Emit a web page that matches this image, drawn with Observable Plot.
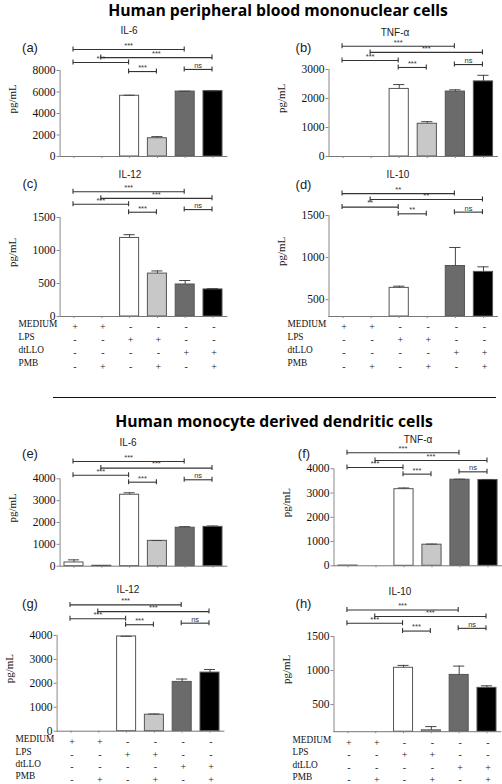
<!DOCTYPE html>
<html><head><meta charset="utf-8">
<script src="https://cdn.jsdelivr.net/npm/d3@7"></script>
<script src="https://cdn.jsdelivr.net/npm/@observablehq/plot@0.6"></script>
<style>
body{margin:0;background:#fff;}
#root{position:relative;width:502px;height:784px;overflow:hidden;font-family:"Liberation Sans",Arial,sans-serif;background:#fff;}
.lbl{position:absolute;transform:translate(-50%,-50%);white-space:nowrap;line-height:1;}
.title{font-family:"Open Sans",Lato,sans-serif;font-weight:700;font-size:15px;color:#000;}
.cyto{font-size:10px;color:#222;}
.tag{font-size:13px;color:#222;}
.rule{position:absolute;left:53px;width:443px;top:397px;height:1.4px;background:#111;}
</style></head>
<body><div id="root"></div>
<script>
// ---- data ----
const conditions = [0, 1, 2, 3, 4, 5];
const rowNames = ["MEDIUM", "LPS", "dtLLO", "PMB"];
const rowMedium = ["+", "+", "-", "-", "-", "-"];
const rowLPS = ["-", "-", "+", "+", "-", "-"];
const rowDtLLO = ["-", "-", "-", "-", "+", "+"];
const rowPMB = ["-", "+", "-", "+", "-", "+"];
const rowSymbols = [rowMedium, rowLPS, rowDtLLO, rowPMB];

const pbmcIL6 = [0, 0, 5650, 1700, 6040, 6080];
const pbmcIL6Err = [0, 0, 50, 150, 30, 30];
const pbmcTNF = [0, 0, 2330, 1130, 2240, 2590];
const pbmcTNFErr = [0, 0, 150, 70, 60, 210];
const pbmcIL12 = [0, 0, 1190, 650, 485, 410];
const pbmcIL12Err = [0, 0, 50, 40, 60, 12];
const pbmcIL10 = [0, 0, 640, 0, 900, 830];
const pbmcIL10Err = [0, 0, 20, 0, 220, 60];

const dcIL6 = [170, 20, 3270, 1160, 1760, 1800];
const dcIL6Err = [120, 10, 90, 15, 50, 40];
const dcTNF = [10, 0, 3160, 870, 3550, 3540];
const dcTNFErr = [0, 0, 50, 25, 20, 15];
const dcIL12 = [0, 0, 3960, 690, 2060, 2450];
const dcIL12Err = [0, 0, 5, 30, 120, 130];
const dcIL10 = [0, 0, 1040, 120, 935, 745];
const dcIL10Err = [0, 0, 35, 55, 130, 30];

const bracketFrom = [0, 1, 0, 2, 4];
const bracketTo = [4, 5, 2, 3, 5];
const sig3 = ["***", "***", "***", "***", "ns"];
const sig2 = ["**", "**", "**", "**", "ns"];
const levelsA = [9950, 9200, 8750, 7900, 8100];
const levelsB = [3800, 3590, 3310, 3070, 3170];
const levelsC = [1890, 1790, 1700, 1580, 1620];
const levelsD = [1760, 1690, 1600, 1520, 1540];
const levelsE = [4790, 4490, 4165, 3845, 3955];
const levelsF = [4660, 4340, 4055, 3780, 3875];
const levelsG = [5280, 5000, 4700, 4450, 4515];
const levelsH = [1890, 1795, 1695, 1580, 1620];

const ticks8000 = [0, 2000, 4000, 6000, 8000];
const ticks3000 = [0, 1000, 2000, 3000];
const ticks1500 = [0, 500, 1000, 1500];
const ticks1500b = [500, 1000, 1500];
const ticks4000 = [0, 1000, 2000, 3000, 4000];

const title1 = "Human peripheral blood mononuclear cells";
const title2 = "Human monocyte derived dendritic cells";

// ---- styles / layout ----
const barFills = ["#ffffff", "#3a3a3a", "#ffffff", "#c8c8c8", "#6b6b6b", "#000000"];
const barHalf = 0.342, capHalf = 0.2;
const serif = "'Liberation Serif','Times New Roman',serif";
const sans = "'Liberation Sans',Arial,sans-serif";

const panels = [
  {tag: "(a)", cyto: "IL-6", values: pbmcIL6, errors: pbmcIL6Err, sig: sig3, levels: levelsA, ticks: ticks8000, domain: [0, 8000],
   left: 0, top: 36, width: 251, height: 130, mL: 59.6, mR: 24.6, mT: 34, mB: 10, tagPos: [30, 47], cytoPos: [129, 31]},
  {tag: "(b)", cyto: "TNF-α", values: pbmcTNF, errors: pbmcTNFErr, sig: sig3, levels: levelsB, ticks: ticks3000, domain: [0, 3000],
   left: 251, top: 36, width: 251, height: 130, mL: 77.5, mR: 5, mT: 33, mB: 10, tagPos: [303.5, 47], cytoPos: [395, 33]},
  {tag: "(c)", cyto: "IL-12", values: pbmcIL12, errors: pbmcIL12Err, sig: sig3, levels: levelsC, ticks: ticks1500, domain: [0, 1500],
   left: 0, top: 185, width: 251, height: 190, mL: 59.6, mR: 24.6, mT: 32, mB: 59, tagPos: [30, 183], cytoPos: [130, 175], table: [10.5, 13.1]},
  {tag: "(d)", cyto: "IL-10", values: pbmcIL10, errors: pbmcIL10Err, sig: sig2, levels: levelsD, ticks: ticks1500b, domain: [300, 1500],
   left: 251, top: 185, width: 251, height: 190, mL: 77.5, mR: 5, mT: 30, mB: 59, tagPos: [303.5, 184], cytoPos: [398, 175], table: [10.5, 13.1]},
  {tag: "(e)", cyto: "IL-6", values: dcIL6, errors: dcIL6Err, sig: sig3, levels: levelsE, ticks: ticks4000, domain: [0, 4000],
   left: 0, top: 447, width: 251, height: 128.7, mL: 59.6, mR: 24.6, mT: 31.3, mB: 10, tagPos: [30, 453], cytoPos: [128, 443]},
  {tag: "(f)", cyto: "TNF-α", values: dcTNF, errors: dcTNFErr, sig: sig3, levels: levelsF, ticks: ticks4000, domain: [0, 4000],
   left: 251, top: 447, width: 251, height: 128.7, mL: 82.5, mR: 0.5, mT: 21.3, mB: 10.4, tagPos: [304, 453], cytoPos: [418, 440]},
  {tag: "(g)", cyto: "IL-12", values: dcIL12, errors: dcIL12Err, sig: sig3, levels: levelsG, ticks: ticks4000, domain: [0, 4000],
   left: 0, top: 598, width: 251, height: 186, mL: 56.6, mR: 27.6, mT: 37, mB: 53.3, tagPos: [30, 603], cytoPos: [128, 590], table: [11, 12.4]},
  {tag: "(h)", cyto: "IL-10", values: dcIL10, errors: dcIL10Err, sig: sig3, levels: levelsH, ticks: ticks1500b, domain: [100, 1500],
   left: 251, top: 598, width: 251, height: 186, mL: 82.5, mR: 1.6, mT: 38, mB: 52.8, tagPos: [303.5, 602.7], cytoPos: [400, 591.7], table: [11, 12.4]}
];

const root = document.getElementById("root");

function label(text, cls, x, y, fitWidth) {
  const d = document.createElement("div");
  d.className = "lbl " + cls;
  d.textContent = text;
  d.style.left = x + "px";
  d.style.top = y + "px";
  root.appendChild(d);
  if (fitWidth) {
    const fs = parseFloat(getComputedStyle(d).fontSize);
    const w = d.getBoundingClientRect().width;
    d.style.fontSize = (fs * fitWidth / w) + "px";
  }
}

function drawPanel(p) {
  const bars = conditions.map(i => ({i, v: p.values[i], e: p.errors[i], fill: barFills[i]})).filter(d => d.v > p.domain[0]);
  const errs = bars.filter(d => d.e > 0);
  const brackets = bracketFrom.map((f, k) => ({from: f, to: bracketTo[k], mid: (f + bracketTo[k]) / 2, label: p.sig[k], level: p.levels[k]}));
  const ends = brackets.flatMap(b => [{x: b.from, level: b.level}, {x: b.to, level: b.level}]);
  const marks = [
    Plot.rectY(bars, {x1: d => d.i - barHalf, x2: d => d.i + barHalf, y1: p.domain[0], y2: "v", fill: "fill", stroke: "#555", strokeWidth: 1}),
    Plot.ruleX(errs, {x: "i", y1: "v", y2: d => d.v + d.e, stroke: "#444"}),
    Plot.ruleY(errs, {x1: d => d.i - capHalf, x2: d => d.i + capHalf, y: d => d.v + d.e, stroke: "#444"}),
    Plot.frame({anchor: "left", stroke: "#888"}),
    Plot.frame({anchor: "bottom", stroke: "#777"}),
    Plot.axisY({ticks: p.ticks, tickSize: 3, tickPadding: 1.5, tickFormat: d => String(d), label: null, fontSize: 11.5, stroke: "#888"}),
    Plot.axisX({ticks: conditions, tickSize: 2, tickFormat: () => "", label: null, stroke: "#888"}),
    Plot.link(brackets, {x1: "from", x2: "to", y1: "level", y2: "level", stroke: "#333", strokeWidth: 1.1, dx: -1}),
    Plot.ruleX(ends, {x: "x", y1: "level", y2: "level", insetTop: -2.5, insetBottom: -2.5, stroke: "#333", strokeWidth: 1.1, dx: -1}),
    Plot.text(brackets, {x: "mid", y: "level", text: "label", dy: -4, dx: -1, fontSize: 7.5, fontFamily: sans, fill: "#333"}),
    Plot.text(["pg/mL"], {text: d => d, frameAnchor: "left", rotate: -90, dx: -48, fontSize: 11, fontFamily: serif})
  ];
  if (p.table) {
    const [base, step] = p.table;
    rowSymbols.forEach((syms, r) => {
      marks.push(Plot.text(conditions, {x: d => d, y: p.domain[0], text: d => syms[d], dy: base + step * r, dx: 1, fontSize: 10, fontFamily: serif, fill: "#222"}));
      marks.push(Plot.text([rowNames[r]], {text: d => d, frameAnchor: "bottom-left", textAnchor: "start", dx: -41.5, dy: base + step * r, fontSize: 9.3, fontFamily: serif, fill: "#111"}));
    });
  }
  const svg = Plot.plot({
    width: p.width, height: p.height,
    marginLeft: p.mL, marginRight: p.mR, marginTop: p.mT, marginBottom: p.mB,
    x: {domain: [-0.5, 5.5]},
    y: {domain: p.domain},
    color: {type: "identity"},
    style: {background: "white", overflow: "visible", fontFamily: serif, fontSize: "12px", color: "#111"},
    marks
  });
  svg.style.position = "absolute";
  svg.style.left = p.left + "px";
  svg.style.top = p.top + "px";
  svg.style.maxWidth = "none";
  root.appendChild(svg);
  label(p.cyto, "cyto", p.cytoPos[0], p.cytoPos[1]);
  label(p.tag, "tag", p.tagPos[0], p.tagPos[1]);
}

panels.forEach(drawPanel);
label(title1, "title", 278, 11, 340);
label(title2, "title", 274, 421.7, 318);
const hr = document.createElement("div");
hr.className = "rule";
root.appendChild(hr);
</script>
</body></html>
